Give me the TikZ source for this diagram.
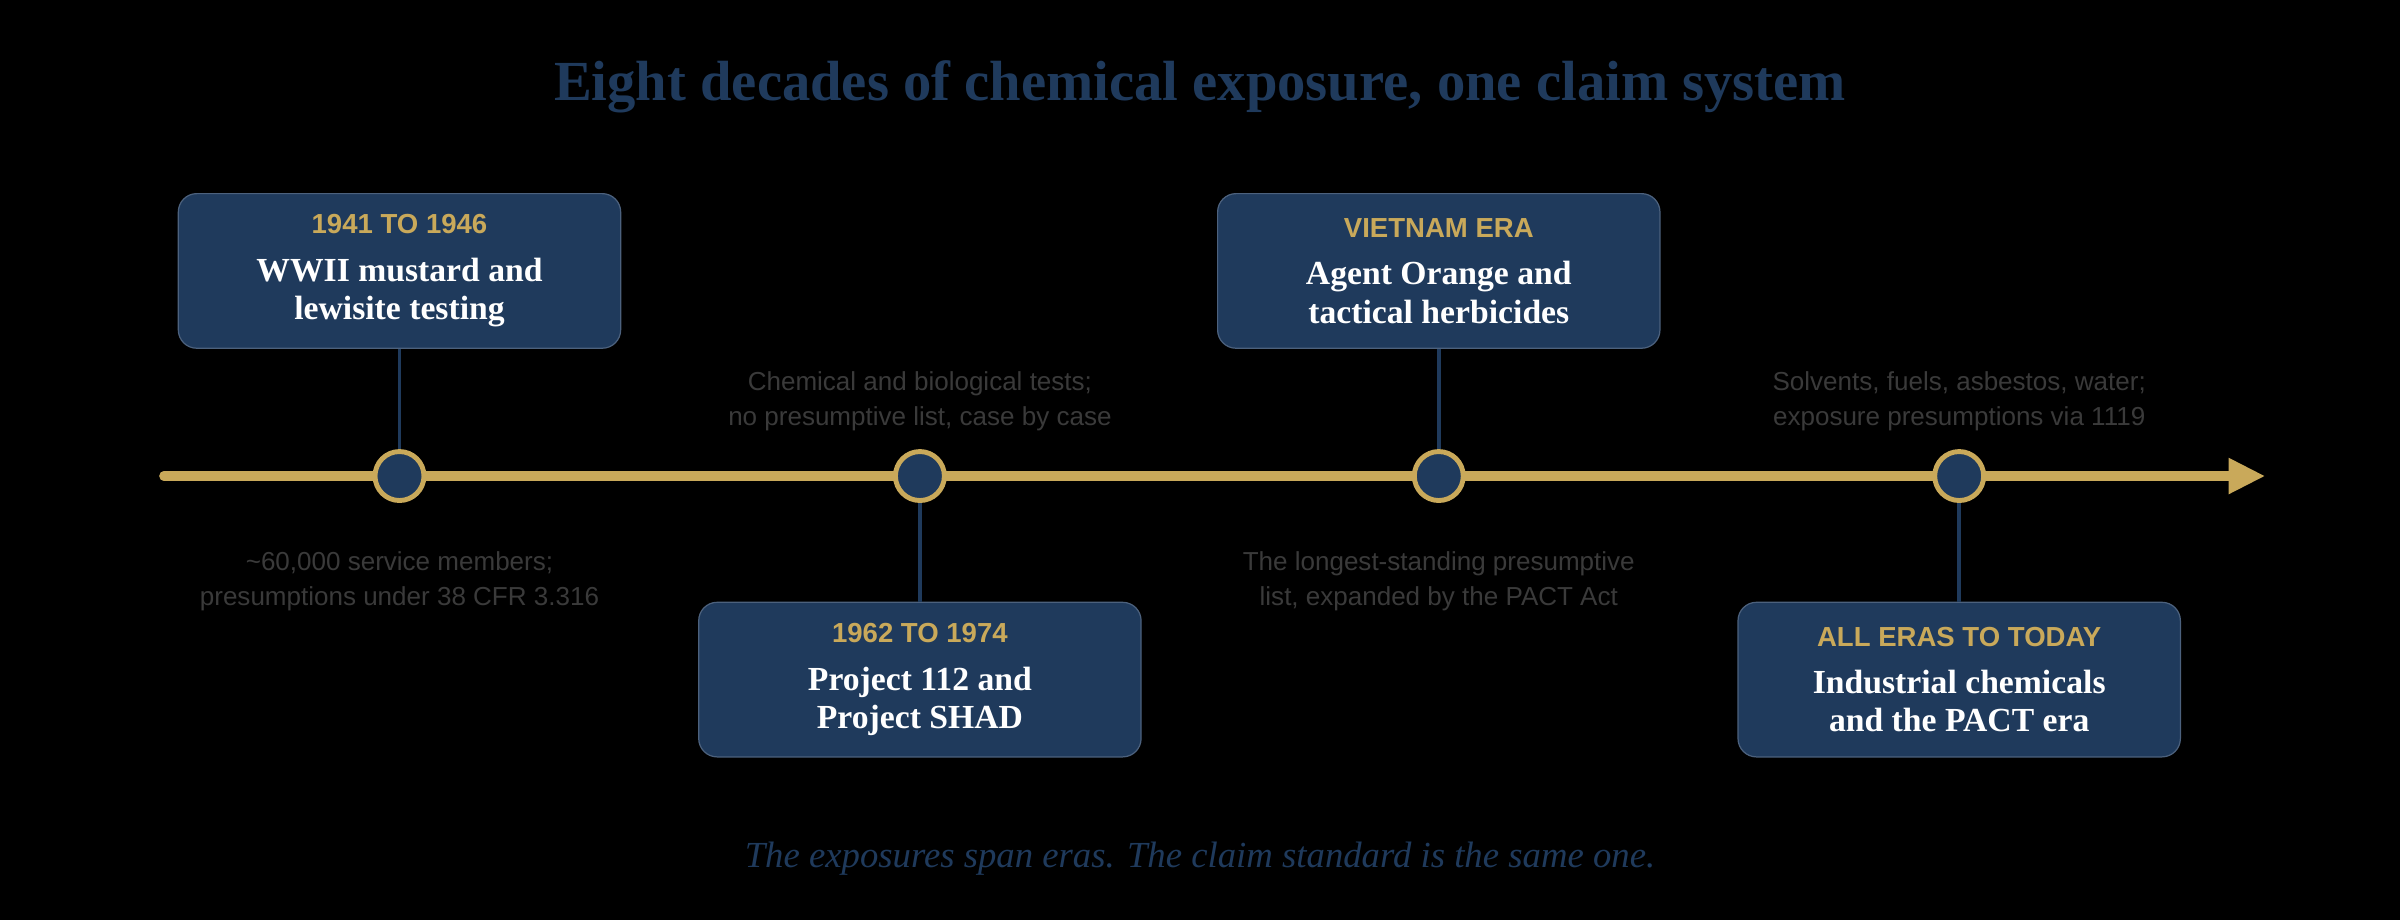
\documentclass[tikz,border=0pt]{standalone}
\usepackage{fontspec}
\setmainfont{Liberation Serif}
\setsansfont{Liberation Sans}
\usetikzlibrary{arrows.meta,positioning}
\definecolor{navy}{HTML}{1F3A5C}
\definecolor{gold}{HTML}{C9A95A}
\definecolor{note}{HTML}{3A3A3A}
\tikzset{
  era/.style={draw=navy!80!white, fill=navy, rounded corners=6pt, minimum width=144.5pt,
    minimum height=50.5pt, align=center, inner sep=2pt, text=white,
    font=\bfseries\fontsize{11}{12.5}\selectfont},
  dot/.style={circle, draw=gold, line width=1.6pt, fill=navy, minimum size=16pt, inner sep=0pt},
  stem/.style={draw=navy, line width=1.3pt},
  notes/.style={text=note, font=\sffamily\fontsize{8.5}{11.5}\selectfont, align=center},
}
\newcommand{\erayear}[1]{\textcolor{gold}{\sffamily\fontsize{9}{11}\selectfont #1}}
\begin{document}
\begin{tikzpicture}[x=0.5pt,y=-0.5pt]
				\fill[black] (0,0) rectangle (1568,601);
				\useasboundingbox (0,0) rectangle (1568,601);
				% Title and footer:
				\node[text=navy, font=\bfseries\fontsize{18.5}{22}\selectfont] (title) at (784,57) {Eight decades of chemical exposure, one claim system};
				\node[text=navy, font=\itshape\fontsize{12}{14}\selectfont] (footer) at (784,561) {The exposures span eras. The claim standard is the same one.};
				% Axis:
				\coordinate (start) at (107,311);
				\coordinate (end) at (1480,311);
				\draw[gold, line width=3pt, line cap=round, -{Triangle[length=12pt,width=11pt]}] (start) -- (end);
				% Eras:
				\node[dot] (d1) at (261,311) {};
				\node[dot] (d2) at (601,311) {};
				\node[dot] (d3) at (940,311) {};
				\node[dot] (d4) at (1280,311) {};
				\node[era] (e1) at (261,177) {\erayear{1941 TO 1946}\\[3pt] WWII mustard and\\lewisite testing};
				\node[era] (e2) at (601,444) {\erayear{1962 TO 1974}\\[3pt] Project 112 and\\Project SHAD};
				\node[era] (e3) at (940,177) {\erayear{VIETNAM ERA}\\[3pt] Agent Orange and\\tactical herbicides};
				\node[era] (e4) at (1280,444) {\erayear{ALL ERAS TO TODAY}\\[3pt] Industrial chemicals\\and the PACT era};
				\draw[stem] (e1) -- (d1);
				\draw[stem] (e2) -- (d2);
				\draw[stem] (e3) -- (d3);
				\draw[stem] (e4) -- (d4);
				% Notes:
				\node[notes] (n1) at (261,380) {\textasciitilde60,000 service members;\\presumptions under 38 CFR 3.316};
				\node[notes] (n2) at (601,262) {Chemical and biological tests;\\no presumptive list, case by case};
				\node[notes] (n3) at (940,380) {The longest-standing presumptive\\list, expanded by the PACT Act};
				\node[notes] (n4) at (1280,262) {Solvents, fuels, asbestos, water;\\exposure presumptions via 1119};
			\end{tikzpicture}
\end{document}
